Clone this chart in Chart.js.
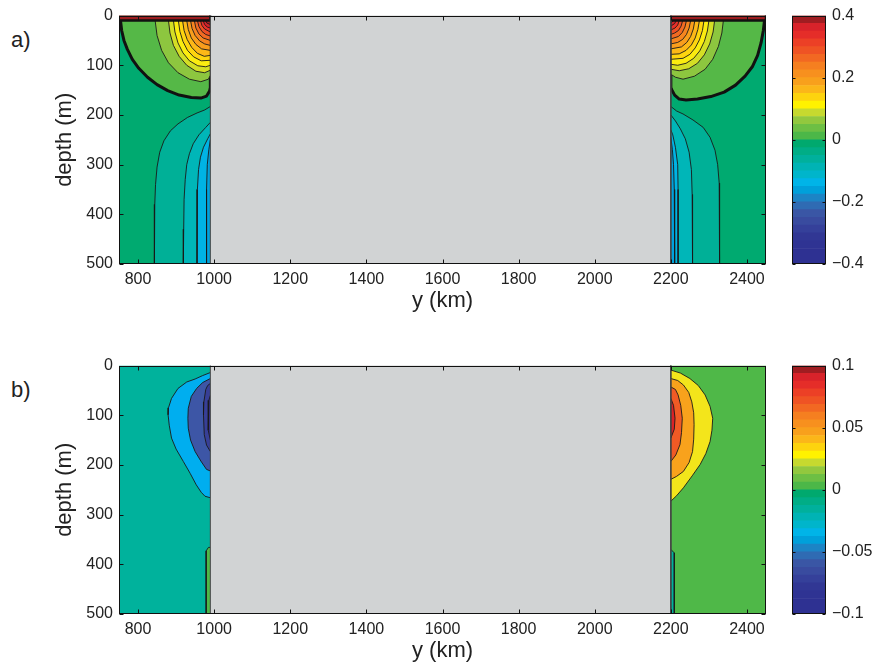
<!DOCTYPE html>
<html><head><meta charset="utf-8">
<script src="https://cdn.jsdelivr.net/npm/chart.js@4.4.1/dist/chart.umd.min.js"></script>
<style>
body{margin:0;background:#fff;width:872px;height:663px;overflow:hidden;position:relative;font-family:"Liberation Sans",Arial,sans-serif;}
canvas{position:absolute;}
.lbl{position:absolute;font-size:22px;line-height:22px;color:#222;}
</style></head><body>
<div class="lbl" style="left:11px;top:29px">a)</div>
<div class="lbl" style="left:11px;top:379px">b)</div>
<canvas id="ca" width="780" height="320" style="left:0;top:0"></canvas>
<canvas id="cba" width="92" height="320" style="left:780px;top:0"></canvas>
<canvas id="cb" width="780" height="320" style="left:0;top:350px"></canvas>
<canvas id="cbb" width="92" height="320" style="left:780px;top:350px"></canvas>
<script>
// ---------- axes / ticks ----------
const xTicks = [800,1000,1200,1400,1600,1800,2000,2200,2400];
const depthTicks = [0,100,200,300,400,500];
const cbarATicks = [-0.4,-0.2,0,0.2,0.4];
const cbarBTicks = [-0.1,-0.05,0,0.05,0.1];

// colormap, bottom (min) to top (max)
const cmap = ['#2e3192','#2e3192','#2f3393','#313794','#35409a','#394b9f','#3a56a5','#2f6bb3',
  '#1c84c5','#00a0da','#00b4e8','#00b5cb','#00b3b4','#00b09c','#00ad86','#00a96e',
  '#4cb748','#6dbf44','#92c83e','#c6d92f','#fff200','#fdd30e','#fbb619','#f8a01c',
  '#f7901e','#f57f20','#f26822','#ef5324','#ec4026','#e52d29','#d8232a','#a01d21'];

// ---------- geometry (km, m) ----------
const leftDomain  = [[750,0],[990,0],[990,500],[750,500]];
const rightDomain = [[2200,0],[2450,0],[2450,500],[2200,500]];
const land = [[990,-5],[2200,-5],[2200,505],[990,505],[990,-5]];

// ---------- panel a ----------
const aBgColor = '#00aa70';
const aSurfaceColor = '#9c1c1f';
const aSurfaceL = [[750,-5],[990,-5],[990,10],[750,10]];
const aSurfaceR = [[2200,-5],[2450,-5],[2450,10],[2200,10]];
const aZeroColor = '#55b847';
const aZeroL = [[754,10],[757,30],[763,50],[772,68],[785,88],[802,106],[825,124],[850,139],[878,151],[908,160],[940,165],[965,166],[980,162],[988,152],[990,145],[990,10]];
const aZeroR = [[2446,10],[2443,30],[2437,55],[2428,80],[2414,103],[2395,122],[2370,140],[2340,154],[2305,163],[2270,168],[2240,170],[2222,168],[2210,160],[2203,150],[2200,145],[2200,10]];
const aPosColors = ['#8dc63f','#d4de25','#fbec10','#fed50f','#fcb817','#f99e1c','#f6851f','#f26a22','#ee4f25','#e7302a','#d52229','#b81e24'];
const aPosL = [
  [[845,10],[850,40],[862,70],[880,95],[905,115],[935,128],[965,133],[985,128],[990,120],[990,10]],
  [[880,10],[884,35],[893,60],[908,82],[928,100],[952,112],[975,115],[990,110],[990,10]],
  [[893,10],[897,33],[905,55],[918,75],[935,91],[957,101],[978,103],[990,100],[990,10]],
  [[906,10],[910,32],[918,52],[930,70],[946,83],[966,91],[990,90],[990,10]],
  [[917,10],[921,30],[929,48],[941,64],[956,76],[974,82],[990,80],[990,10]],
  [[928,10],[932,28],[940,45],[952,58],[967,67],[990,70],[990,10]],
  [[938,10],[942,26],[950,40],[962,51],[975,57],[990,60],[990,10]],
  [[948,10],[952,25],[960,37],[971,45],[990,50],[990,10]],
  [[956,10],[960,22],[968,32],[978,38],[990,41],[990,10]],
  [[964,10],[968,20],[975,27],[990,33],[990,10]],
  [[971,10],[975,18],[982,23],[990,25],[990,10]],
  [[977,10],[981,15],[990,18],[990,10]]
];
const aPosR = [
  [[2338,10],[2334,35],[2325,62],[2310,88],[2290,108],[2262,122],[2232,128],[2212,124],[2200,118],[2200,10]],
  [[2315,10],[2311,33],[2302,57],[2288,79],[2270,96],[2247,107],[2222,111],[2200,108],[2200,10]],
  [[2300,10],[2296,31],[2288,52],[2276,71],[2260,86],[2240,96],[2218,100],[2200,98],[2200,10]],
  [[2287,10],[2283,30],[2275,49],[2264,65],[2250,78],[2232,86],[2200,88],[2200,10]],
  [[2275,10],[2271,28],[2264,45],[2254,59],[2240,70],[2222,77],[2200,78],[2200,10]],
  [[2263,10],[2259,27],[2252,42],[2242,54],[2228,63],[2200,67],[2200,10]],
  [[2252,10],[2248,25],[2241,38],[2231,48],[2218,54],[2200,57],[2200,10]],
  [[2241,10],[2237,23],[2230,34],[2220,42],[2200,47],[2200,10]],
  [[2231,10],[2227,21],[2220,30],[2210,35],[2200,38],[2200,10]],
  [[2222,10],[2218,19],[2211,25],[2200,29],[2200,10]],
  [[2214,10],[2210,16],[2200,21],[2200,10]],
  [[2207,10],[2203,13],[2200,15],[2200,10]]
];
const aNegColors = ['#00b097','#00b6b8','#00b3e4','#00a2dc'];
const aNegL = [
  [[990,183],[975,190],[955,196],[930,205],[905,218],[885,232],[868,252],[857,275],[850,305],[846,340],[844,380],[843,440],[843,500],[990,500]],
  [[990,215],[978,225],[960,240],[945,258],[935,278],[928,300],[924,330],[921,370],[920,430],[919,500],[990,500]],
  [[990,238],[983,248],[972,265],[964,285],[959,310],[956,350],[955,400],[955,500],[990,500]],
  [[990,250],[986,270],[982,300],[980,350],[980,500],[990,500]]
];
const aNegR = [
  [[2200,183],[2215,192],[2232,198],[2258,210],[2285,225],[2303,245],[2316,271],[2323,300],[2327,337],[2328,400],[2328,500],[2200,500]],
  [[2200,200],[2212,212],[2225,228],[2238,248],[2248,275],[2254,310],[2256,360],[2257,500],[2200,500]],
  [[2200,230],[2205,240],[2212,265],[2218,300],[2219,350],[2219,500],[2200,500]],
  [[2200,245],[2204,270],[2207,300],[2209,350],[2210,500],[2200,500]]
];

// ---------- panel b ----------
const bBgLeft = '#00b29c';
const bBgRight = '#4fb848';
const bNegColors = ['#00aeef','#3d56a6','#373f97','#312c8d'];
const bNegL = [
  [[990,14],[970,20],[950,27],[928,33],[905,46],[888,66],[880,85],[879,99],[882,120],[888,146],[900,168],[919,193],[937,217],[953,240],[966,255],[976,263],[990,266]],
  [[990,26],[970,34],[954,46],[940,62],[932,86],[931,106],[932,126],[938,150],[950,173],[965,192],[980,209],[990,212]],
  [[990,36],[983,40],[978,48],[973,73],[972,100],[974,139],[980,160],[990,173]],
  [[990,60],[986,70],[984,100],[985,130],[990,150]]
];
const bPosColors = ['#f3e51b','#f8a21c','#f05a25','#dc2126'];
const bPosR = [
  [[2200,9],[2225,15],[2250,26],[2272,40],[2290,59],[2303,82],[2310,106],[2308,130],[2303,153],[2292,177],[2277,199],[2256,222],[2233,246],[2215,262],[2200,273]],
  [[2200,26],[2218,30],[2233,39],[2247,54],[2255,73],[2260,95],[2261,119],[2260,148],[2257,173],[2248,195],[2233,213],[2215,223],[2200,229]],
  [[2200,43],[2212,48],[2219,59],[2226,80],[2230,106],[2228,135],[2224,159],[2213,180],[2200,193]],
  [[2200,66],[2207,80],[2211,106],[2209,128],[2200,146]]
];
const bStripL = [[990,366],[985,366],[979,373],[979,500],[990,500]];
const bStripR = [[2200,370],[2209,377],[2209,500],[2200,500]];

// ---------- drawing ----------
Chart.defaults.font.family = '"Liberation Sans", Arial, Helvetica, sans-serif';
Chart.defaults.color = '#222';

const framePlugin = {
  id: 'frame',
  afterDatasetsDraw(chart, args, opts) {
    const {ctx, chartArea: a, scales} = chart;
    const L = opts.tick || 4;
    ctx.save();
    ctx.strokeStyle = '#111'; ctx.lineWidth = 1;
    const l = Math.round(a.left) + 0.5, t = Math.round(a.top) + 0.5;
    const r = Math.round(a.right) - 0.5, b = Math.round(a.bottom) - 0.5;
    ctx.strokeRect(l, t, r - l, b - t);
    ctx.beginPath();
    if (scales.x && scales.x.options.display !== false) {
      for (const tk of scales.x.ticks) {
        const p = Math.round(scales.x.getPixelForValue(tk.value)) + 0.5;
        ctx.moveTo(p, t); ctx.lineTo(p, t + L); ctx.moveTo(p, b); ctx.lineTo(p, b - L);
      }
    }
    for (const tk of scales.y.ticks) {
      const p = Math.round(scales.y.getPixelForValue(tk.value)) + 0.5;
      ctx.moveTo(l, p); ctx.lineTo(l + L, p); ctx.moveTo(r, p); ctx.lineTo(r - L, p);
    }
    ctx.stroke();
    ctx.restore();
  }
};

function poly(pts, color, bw, bc) {
  return {data: pts.map(p => ({x: p[0], y: p[1]})), fill: 'shape', backgroundColor: color,
    borderColor: bc || '#1a1a1a', borderWidth: bw, pointRadius: 0, pointHitRadius: 0,
    tension: 0, borderJoinStyle: 'round'};
}

const noGrid = {display: false, drawTicks: false};

function mainChart(id, datasets) {
  datasets.forEach((d, i) => { d.order = -i; });
  const tickFont = {size: 16};
  return new Chart(document.getElementById(id), {
    type: 'line',
    data: {datasets},
    options: {
      responsive: false, animation: false, events: [],
      layout: {padding: {left: 48, top: 14, right: 14, bottom: 3}},
      plugins: {legend: {display: false}, tooltip: {enabled: false}, frame: {tick: 4}},
      scales: {
        x: {type: 'linear', min: 750, max: 2450,
          grid: noGrid, border: {display: false},
          afterBuildTicks: s => { s.ticks = xTicks.map(v => ({value: v})); },
          afterFit: s => { s.height = 53; },
          ticks: {padding: 6, font: tickFont, color: '#222', autoSkip: false, maxRotation: 0, callback: v => String(v)},
          title: {display: true, text: 'y (km)', font: {size: 22}, color: '#222', padding: {top: 4, bottom: 3}}},
        y: {type: 'linear', reverse: true, min: 0, max: 500,
          grid: noGrid, border: {display: false},
          afterBuildTicks: s => { s.ticks = depthTicks.map(v => ({value: v})); },
          afterFit: s => { s.width = 71; },
          ticks: {padding: 6, font: tickFont, color: '#222', autoSkip: false, callback: v => String(v)},
          title: {display: true, text: 'depth (m)', font: {size: 22}, color: '#222', padding: {top: 4, bottom: 4}}}
      }
    },
    plugins: [framePlugin]
  });
}

function fmt(v) { return v < 0 ? '\u2212' + String(Math.abs(v)) : String(v); }

function colorbar(id, lo, hi, ticks) {
  const step = (hi - lo) / cmap.length;
  const datasets = cmap.map((c, i) => ({data: [[lo + i * step, lo + (i + 1) * step]], backgroundColor: c, borderColor: c, borderWidth: 0}));
  return new Chart(document.getElementById(id), {
    type: 'bar',
    data: {labels: ['c'], datasets},
    options: {
      responsive: false, animation: false, events: [],
      layout: {padding: {left: 12, top: 14, right: 0, bottom: 56}},
      datasets: {bar: {grouped: false, barPercentage: 1, categoryPercentage: 1}},
      plugins: {legend: {display: false}, tooltip: {enabled: false}, frame: {tick: 3}},
      scales: {
        x: {display: false},
        y: {min: lo, max: hi, position: 'right', grid: noGrid, border: {display: false},
          afterBuildTicks: s => { s.ticks = ticks.map(v => ({value: v})); },
          afterFit: s => { s.width = 46; },
          ticks: {padding: 6, font: {size: 16}, color: '#222', callback: v => fmt(v)}}
      }
    },
    plugins: [framePlugin]
  });
}

// panel a
const dsA = [poly(leftDomain, aBgColor, 0), poly(rightDomain, aBgColor, 0)];
aNegL.forEach((p, i) => dsA.push(poly(p, aNegColors[i], 0.9)));
aNegR.forEach((p, i) => dsA.push(poly(p, aNegColors[i], 0.9)));
dsA.push(poly(aZeroL, aZeroColor, 3, '#111'));
dsA.push(poly(aZeroR, aZeroColor, 3, '#111'));
aPosL.forEach((p, i) => dsA.push(poly(p, aPosColors[i], 0.9)));
aPosR.forEach((p, i) => dsA.push(poly(p, aPosColors[i], 0.9)));
dsA.push(poly(aSurfaceL, aSurfaceColor, 2.5, '#111'));
dsA.push(poly(aSurfaceR, aSurfaceColor, 2.5, '#111'));
dsA.push(poly(land, '#d1d3d4', 1, '#444'));
mainChart('ca', dsA);
colorbar('cba', -0.4, 0.4, cbarATicks);

// panel b
const dsB = [poly(leftDomain, bBgLeft, 0), poly(rightDomain, bBgRight, 0)];
bNegL.forEach((p, i) => dsB.push(poly(p, bNegColors[i], 0.9)));
bPosR.forEach((p, i) => dsB.push(poly(p, bPosColors[i], 0.9)));
dsB.push(poly(bStripL, bBgRight, 0.9));
dsB.push(poly(bStripR, bBgLeft, 0.9));
dsB.push(poly(land, '#d1d3d4', 1, '#444'));
mainChart('cb', dsB);
colorbar('cbb', -0.1, 0.1, cbarBTicks);
</script>
</body></html>
